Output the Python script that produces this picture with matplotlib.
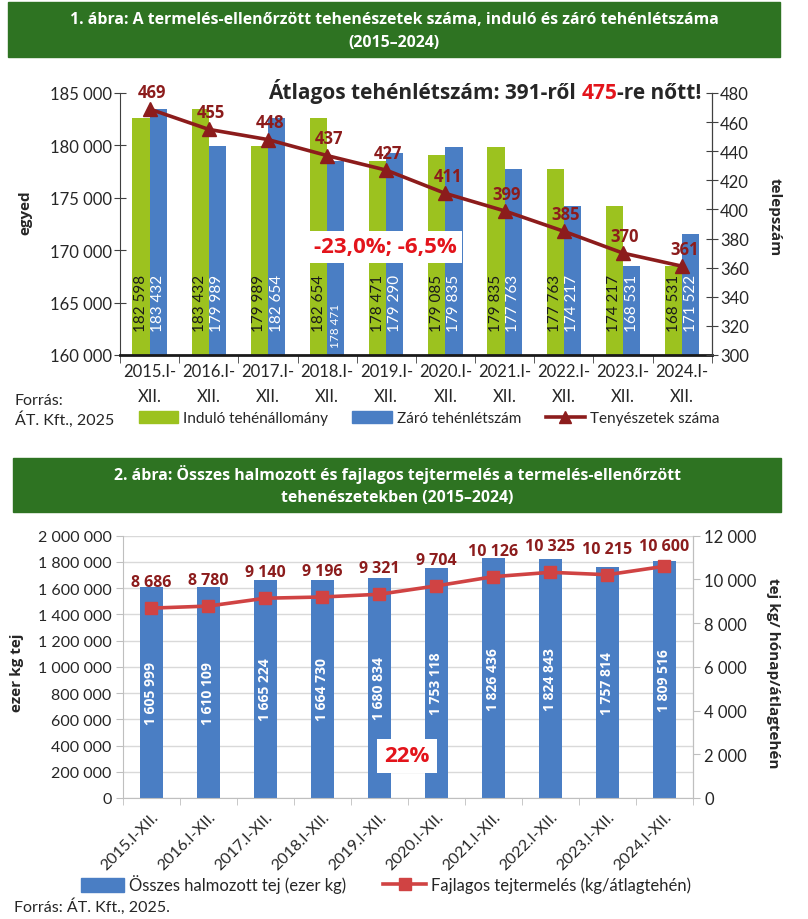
import matplotlib
matplotlib.use('Agg')
import matplotlib.pyplot as plt
import numpy as np
from matplotlib.patches import Rectangle, Patch
from matplotlib.lines import Line2D
from matplotlib.ticker import FuncFormatter, MultipleLocator

# --- data -------------------------------------------------------------
years = ['2015', '2016', '2017', '2018', '2019', '2020', '2021', '2022', '2023', '2024']
indulo = [182598, 183432, 179989, 182654, 178471, 179085, 179835, 177763, 174217, 168531]
zaro = [183432, 179989, 182654, 178471, 179290, 179835, 177763, 174217, 168531, 171522]
telepek = [469, 455, 448, 437, 427, 411, 399, 385, 370, 361]

ossz_tej = [1605999, 1610109, 1665224, 1664730, 1680834, 1753118, 1826436, 1824843, 1757814, 1809516]
fajlagos = [8686, 8780, 9140, 9196, 9321, 9704, 10126, 10325, 10215, 10600]

# --- style ------------------------------------------------------------
BANNER = '#2E7322'
GREEN = '#9CC21F'
BLUE = '#4A7EC4'
DARKRED = '#8C1C1C'
LINERED = '#D04343'
RED = '#E3141B'
TXT = '#262626'
TICKFONT = 'Lato'
BOLD = ['Open Sans', 'DejaVu Sans']

plt.rcParams['font.family'] = [TICKFONT, 'DejaVu Sans']
plt.rcParams['text.color'] = TXT
plt.rcParams['xtick.color'] = TXT
plt.rcParams['ytick.color'] = TXT

W, H = 808, 920


def fx(px):
    return px / W


def fy(py):
    return 1 - py / H


def space_fmt(v, pos=None):
    return f'{int(round(v)):,}'.replace(',', ' ')


fig = plt.figure(figsize=(W / 100, H / 100), dpi=100)


def banner(x0, y0, x1, y1, lines, ys):
    fig.patches.append(Rectangle((fx(x0), fy(y1)), fx(x1) - fx(x0), fy(y0) - fy(y1),
                                 transform=fig.transFigure, color=BANNER, zorder=0))
    for s, yy in zip(lines, ys):
        fig.text(fx((x0 + x1) / 2), fy(yy), s, ha='center', va='center', color='white',
                 fontsize=11.4, fontweight='bold', family=BOLD)


# ===================== chart 1 ========================================
banner(8, 3, 780, 58,
       ['1. ábra: A termelés-ellenőrzött tehenészetek száma, induló és záró tehénlétszáma',
        '(2015–2024)'], [20, 43])

ax1 = fig.add_axes([fx(120), fy(356), fx(711.7) - fx(120), fy(94) - fy(356)])
x = np.arange(len(years))
w = 0.29
ax1.bar(x - w / 2, indulo, w, color=GREEN, zorder=2)
ax1.bar(x + w / 2, zaro, w, color=BLUE, zorder=2)
ax1.set_xlim(-0.5, len(years) - 0.5)
ax1.set_ylim(160000, 185000)
ax1.yaxis.set_major_locator(MultipleLocator(5000))
ax1.yaxis.set_major_formatter(FuncFormatter(space_fmt))

for i in range(len(years)):
    ax1.annotate(space_fmt(indulo[i]), (x[i] - w / 2, 160000), xytext=(0, 17),
                 textcoords='offset points', rotation=90, ha='center', va='bottom',
                 fontsize=11, color='#1a1a1a', zorder=3)
    small = i == 3
    ax1.annotate(space_fmt(zaro[i]), (x[i] + w / 2, 160000), xytext=(0, 6 if small else 17),
                 textcoords='offset points', rotation=90, ha='center', va='bottom',
                 fontsize=8.5 if small else 11, color='white', zorder=3)

ax1.spines['top'].set_visible(False)
ax1.spines['left'].set_color('#404040')
ax1.spines['bottom'].set_color('#1a1a1a')
ax1.spines['bottom'].set_linewidth(2)
ax1.tick_params(axis='y', direction='inout', length=8, labelsize=12, pad=2, color='#404040')
ax1.set_xticks(x)
ax1.set_xticklabels([f'{y}.I-\nXII.' for y in years], linespacing=1.65)
ax1.set_xticks(np.arange(len(years) + 1) - 0.5, minor=True)
ax1.tick_params(axis='x', which='major', length=0, labelsize=12, pad=6)
ax1.tick_params(axis='x', which='minor', length=6, color='#404040', direction='out')

ax1b = ax1.twinx()
ax1b.plot(x, telepek, color=DARKRED, lw=2.6, marker='^', ms=10, zorder=4)
ax1b.set_ylim(300, 480)
ax1b.yaxis.set_major_locator(MultipleLocator(20))
ax1b.tick_params(axis='y', direction='inout', length=8, labelsize=12, pad=2, color='#404040')
for s in ['top', 'left', 'bottom']:
    ax1b.spines[s].set_visible(False)
ax1b.spines['right'].set_color('#404040')
for i, v in enumerate(telepek):
    ax1b.annotate(str(v), (x[i], v), xytext=(1.5, 6), textcoords='offset points',
                  ha='center', va='bottom', fontsize=12, fontweight='bold', color=DARKRED,
                  family=BOLD)

fig.text(fx(25), fy(213), 'egyed', rotation=90, ha='center', va='center',
         fontsize=11, fontweight='bold', family=BOLD)
fig.text(fx(775), fy(217), 'telepszám', rotation=270, ha='center', va='center',
         fontsize=11, fontweight='bold', family=BOLD)

# headline with one red number
kw = dict(fontsize=15, fontweight='bold', family=BOLD, va='bottom')
t1 = fig.text(fx(268), fy(104), 'Átlagos tehénlétszám: 391-ről ', color=TXT, **kw)
t2 = plt.annotate('475', xy=(1, 0), xycoords=t1, color=RED, annotation_clip=False, **kw)
plt.annotate('-re nőtt!', xy=(1, 0), xycoords=t2, color=TXT, annotation_clip=False, **kw)

fig.text(fx(385), fy(248), '-23,0%; -6,5%', ha='center', va='center', color=RED,
         fontsize=16, fontweight='bold', family=BOLD,
         bbox=dict(facecolor='white', edgecolor='none', pad=4))

fig.text(fx(15), fy(411), 'Forrás:\nÁT. Kft., 2025', ha='left', va='center',
         fontsize=11.5, linespacing=1.25)
h1 = [Patch(color=GREEN), Patch(color=BLUE),
      Line2D([], [], color=DARKRED, lw=2.6, marker='^', ms=9)]
fig.legend(h1, ['Induló tehénállomány', 'Záró tehénlétszám', 'Tenyészetek száma'],
           loc='center', bbox_to_anchor=(fx(429), fy(419)), ncol=3, frameon=False,
           fontsize=11, handlelength=2.6, handleheight=0.9, handletextpad=0.3,
           columnspacing=1.6)

# ===================== chart 2 ========================================
banner(13, 459, 781, 513,
       ['2. ábra: Összes halmozott és fajlagos tejtermelés a termelés-ellenőrzött',
        'tehenészetekben (2015–2024)'], [475, 498])

ax2 = fig.add_axes([fx(122.7), fy(799), fx(693) - fx(122.7), fy(536.7) - fy(799)])
ax2.bar(x, ossz_tej, 0.4, color=BLUE, zorder=2)
ax2.set_xlim(-0.5, len(years) - 0.5)
ax2.set_ylim(0, 2000000)
ax2.yaxis.set_major_locator(MultipleLocator(200000))
ax2.yaxis.set_major_formatter(FuncFormatter(space_fmt))
ax2.grid(axis='y', color='#D9D9D9', lw=1, zorder=0)
ax2.set_axisbelow(True)
for s in ['left', 'bottom', 'right']:
    ax2.spines[s].set_color('#BFBFBF')
ax2.spines['top'].set_visible(False)
ax2.tick_params(axis='y', length=5, color='#BFBFBF', labelsize=11.5, pad=3)
for i, v in enumerate(ossz_tej):
    ax2.text(x[i], v / 2, space_fmt(v), rotation=90, ha='center', va='center',
             color='white', fontsize=10, fontweight='bold', family=BOLD, zorder=3)
ax2.set_xticks(x)
ax2.set_xticklabels([f'{y}.I-XII.' for y in years], rotation=45, ha='right',
                    rotation_mode='anchor')
ax2.set_xticks(np.arange(len(years) + 1) - 0.5, minor=True)
ax2.tick_params(axis='x', which='major', length=0, labelsize=11.5, pad=8)
ax2.tick_params(axis='x', which='minor', length=5, color='#BFBFBF')

ax2b = ax2.twinx()
ax2b.plot(x, fajlagos, color=LINERED, lw=2.6, marker='s', ms=9, zorder=4)
ax2b.set_ylim(0, 12000)
ax2b.yaxis.set_major_locator(MultipleLocator(2000))
ax2b.yaxis.set_major_formatter(FuncFormatter(space_fmt))
ax2b.tick_params(axis='y', length=5, color='#BFBFBF', labelsize=12, pad=3)
for s in ['left', 'top', 'bottom']:
    ax2b.spines[s].set_visible(False)
ax2b.spines['right'].set_color('#BFBFBF')
for i, v in enumerate(fajlagos):
    dy = 9 if i == len(fajlagos) - 1 else 13
    ax2b.annotate(space_fmt(v), (x[i], v), xytext=(0, dy), textcoords='offset points',
                  ha='center', va='bottom', fontsize=11.5, fontweight='bold',
                  color=DARKRED, family=BOLD)

fig.text(fx(17), fy(673), 'ezer kg tej', rotation=90, ha='center', va='center',
         fontsize=11, fontweight='bold', family=BOLD)
fig.text(fx(773), fy(673), 'tej kg/ hónap/átlagtehén', rotation=270, ha='center',
         va='center', fontsize=11, fontweight='bold', family=BOLD)

fig.text(fx(407), fy(757), '22%', ha='center', va='center', color=RED,
         fontsize=16, fontweight='bold', family=BOLD,
         bbox=dict(facecolor='white', edgecolor='none', pad=5))

h2 = [Patch(color=BLUE), Line2D([], [], color=LINERED, lw=2.6, marker='s', ms=8)]
fig.legend(h2, ['Összes halmozott tej (ezer kg)', 'Fajlagos tejtermelés (kg/átlagtehén)'],
           loc='center', bbox_to_anchor=(fx(386), fy(885)), ncol=2, frameon=False,
           fontsize=12, handlelength=2.6, handleheight=0.9, handletextpad=0.3,
           columnspacing=2.2)
fig.text(fx(14), fy(907), 'Forrás: ÁT. Kft., 2025.', ha='left', va='center', fontsize=11.5)

fig.savefig('out.png', dpi=100)
